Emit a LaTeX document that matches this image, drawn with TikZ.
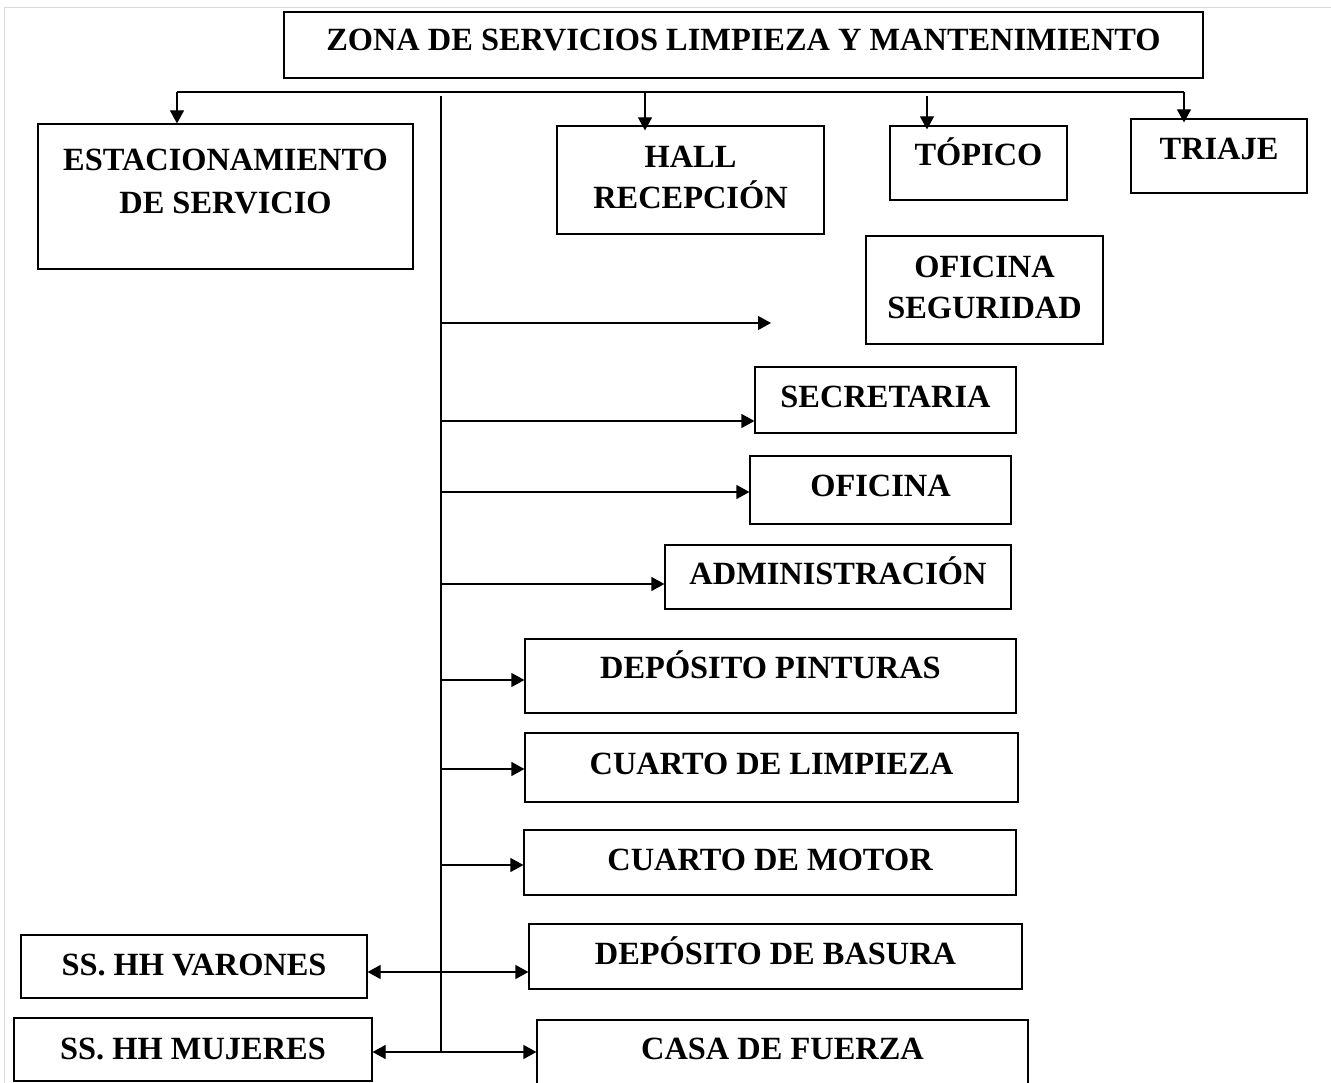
\documentclass[tikz,border=0pt]{standalone}
\usepackage{fontspec}
\setmainfont{Liberation Serif}
\usetikzlibrary{arrows.meta}

\begin{document}
\begin{tikzpicture}[
  x=1pt, y=-1pt,
  font=\bfseries\fontsize{32.4}{41}\selectfont,
  box/.style={draw, line width=1.2pt, align=center, inner sep=0pt},
  raised/.style={text height=21.5pt, text depth=#1},
  raised/.default=0pt,
  link/.style={line width=1.2pt},
  arr/.style={link, -{Triangle[length=13pt,width=14pt]}}
]
\useasboundingbox (0,0) rectangle (1331,1083);
\draw[gray!30, line width=1pt] (4,1083) -- (4,8) -- (1331,8);

% top row
\node[box, raised=10pt, minimum width=919pt, minimum height=66pt] (zona) at (743.5,45) {ZONA DE SERVICIOS LIMPIEZA Y MANTENIMIENTO};
\node[box, minimum width=375pt, minimum height=145pt] (est) at (225.5,196.5) {ESTACIONAMIENTO\\[2pt]DE SERVICIO\rule[-30pt]{0pt}{30pt}};
\node[box, minimum width=267pt, minimum height=108pt] (hall) at (690.5,180) {HALL\\RECEPCIÓN\rule[-6pt]{0pt}{6pt}};
\node[box, raised=16pt, minimum width=177pt, minimum height=74pt] (topico) at (978.5,163) {TÓPICO};
\node[box, raised=14pt, minimum width=176pt, minimum height=74pt] (triaje) at (1219,156) {TRIAJE};

% right column
\node[box, minimum width=237pt, minimum height=108pt] (ofseg) at (984.5,290) {OFICINA\\SEGURIDAD\rule[-6pt]{0pt}{6pt}};
\node[box, raised=6pt, minimum width=261pt, minimum height=66pt] (secre) at (885.5,400) {SECRETARIA};
\node[box, raised=8pt, minimum width=261pt, minimum height=68pt] (ofi) at (880.5,490) {OFICINA};
\node[box, raised=6pt, minimum width=346pt, minimum height=64pt] (admin) at (838,577) {ADMINISTRACIÓN};
\node[box, raised=16pt, minimum width=491pt, minimum height=74pt] (pint) at (770.5,676) {DEPÓSITO PINTURAS};
\node[box, raised=8pt, minimum width=493pt, minimum height=69pt] (limp) at (771.5,767.5) {CUARTO DE LIMPIEZA};
\node[box, raised=6pt, minimum width=492pt, minimum height=65pt] (motor) at (770,862.5) {CUARTO DE MOTOR};
\node[box, raised=6pt, minimum width=493pt, minimum height=65pt] (basura) at (775.5,956.5) {DEPÓSITO DE BASURA};
\node[box, raised=8pt, minimum width=491pt, minimum height=66pt] (casa) at (782.5,1053) {CASA DE FUERZA};

% left column
\node[box, raised=4pt, minimum width=346pt, minimum height=63pt] (varones) at (194,966.5) {SS. HH VARONES};
\node[box, raised=2pt, minimum width=358pt, minimum height=63pt] (mujeres) at (193,1049.5) {SS. HH MUJERES};

% bus and spine
\coordinate (busL) at (177,92);
\coordinate (busR) at (1184,92);
\coordinate (tHall) at (645,92);
\coordinate (tTop) at (927,96);
\coordinate (spTop) at (441,96);
\coordinate (spBot) at (441,1052);
\coordinate (bSeg) at (441,323);
\coordinate (segEnd) at (771,323);

\draw[link] (busL) -- (busR);
\draw[arr] (busL) -- (busL |- est.north);
\draw[arr] (tHall) -- ([yshift=-5pt]tHall |- hall.north);
\draw[arr] (tTop) -- ([yshift=-4pt]tTop |- topico.north);
\draw[arr] (busR) -- ([yshift=-4pt]busR |- triaje.north);

\draw[link] (spTop) -- (spBot);
\draw[arr] (bSeg) -- (segEnd);
\foreach \y/\n in {421/secre, 492/ofi, 584/admin, 680/pint, 769/limp, 865/motor, 972/basura, 1052/casa}{
  \coordinate (b\n) at (441,\y);
  \draw[arr] (b\n) -- (b\n -| \n.west);
}
\draw[arr] (bbasura) -- (bbasura -| varones.east);
\draw[arr] (bcasa) -- (bcasa -| mujeres.east);
\end{tikzpicture}
\end{document}
